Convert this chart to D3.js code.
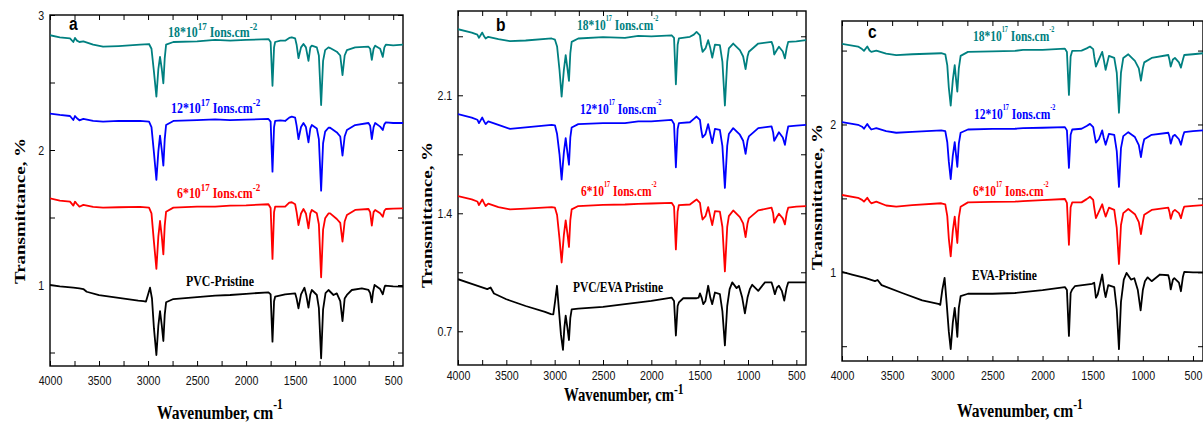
<!DOCTYPE html>
<html><head><meta charset="utf-8">
<script src="https://cdn.jsdelivr.net/npm/d3@7"></script>
<style>body{margin:0;background:#fff}svg{display:block}</style>
</head><body>
<svg id="chart" width="1203" height="425"></svg>
<script>
// ---------------- DATA (wavenumber cm-1, transmittance %) ----------------
// Panel a : PVC
const pvc18 = [[4000,2.85],[3900,2.835],[3796,2.827],[3762,2.80],[3745,2.83],[3725,2.81],[3700,2.80],[3660,2.805],[3560,2.78],[3459,2.765],[3300,2.77],[3082,2.78],[2990,2.785],[2965,2.75],[2940,2.58],[2915,2.395],[2895,2.60],[2878,2.69],[2860,2.60],[2844,2.494],[2830,2.68],[2816,2.78],[2742,2.80],[2500,2.805],[2316,2.815],[2163,2.81],[2000,2.815],[1772,2.822],[1750,2.80],[1731,2.476],[1715,2.76],[1704,2.80],[1650,2.81],[1602,2.81],[1560,2.83],[1534,2.835],[1500,2.827],[1485,2.78],[1466,2.68],[1440,2.76],[1415,2.785],[1390,2.76],[1364,2.66],[1345,2.76],[1330,2.773],[1279,2.76],[1258,2.70],[1235,2.333],[1215,2.66],[1194,2.74],[1160,2.76],[1143,2.755],[1075,2.728],[1040,2.70],[1017,2.555],[995,2.70],[972,2.74],[888,2.76],[752,2.765],[735,2.75],[718,2.667],[700,2.75],[684,2.773],[633,2.75],[606,2.69],[590,2.76],[575,2.78],[500,2.775],[400,2.78]];
const pvc12 = [[4000,2.27],[3900,2.26],[3796,2.252],[3762,2.222],[3745,2.252],[3725,2.235],[3700,2.22],[3660,2.23],[3560,2.215],[3459,2.21],[3300,2.215],[3082,2.215],[2990,2.21],[2965,2.17],[2940,1.98],[2915,1.778],[2895,1.99],[2878,2.106],[2860,2.0],[2844,1.884],[2830,2.08],[2816,2.185],[2742,2.215],[2500,2.222],[2316,2.227],[2163,2.222],[2000,2.225],[1772,2.23],[1750,2.21],[1731,1.84],[1715,2.17],[1704,2.215],[1650,2.22],[1602,2.215],[1560,2.24],[1534,2.247],[1500,2.24],[1485,2.18],[1466,2.08],[1440,2.17],[1415,2.20],[1390,2.17],[1364,2.057],[1345,2.16],[1330,2.185],[1279,2.16],[1258,2.08],[1235,1.699],[1215,2.05],[1194,2.136],[1160,2.165],[1143,2.165],[1075,2.13],[1040,2.10],[1017,1.958],[995,2.10],[972,2.148],[888,2.185],[752,2.20],[735,2.18],[718,2.08],[700,2.17],[684,2.20],[633,2.173],[606,2.148],[590,2.19],[575,2.205],[500,2.20],[400,2.20]];
const pvc6 = [[4000,1.642],[3900,1.625],[3796,1.617],[3762,1.588],[3745,1.617],[3725,1.60],[3700,1.58],[3660,1.593],[3560,1.578],[3459,1.573],[3300,1.576],[3082,1.578],[2990,1.573],[2965,1.53],[2940,1.32],[2915,1.119],[2895,1.36],[2878,1.474],[2860,1.36],[2844,1.227],[2830,1.44],[2816,1.543],[2742,1.573],[2500,1.58],[2316,1.58],[2163,1.588],[2000,1.59],[1772,1.598],[1750,1.57],[1731,1.193],[1715,1.54],[1704,1.58],[1650,1.58],[1602,1.58],[1560,1.61],[1534,1.613],[1500,1.598],[1485,1.54],[1466,1.444],[1440,1.53],[1415,1.563],[1390,1.53],[1364,1.42],[1345,1.53],[1330,1.556],[1279,1.531],[1258,1.45],[1235,1.057],[1215,1.41],[1194,1.494],[1160,1.53],[1143,1.531],[1075,1.489],[1040,1.46],[1017,1.321],[995,1.47],[972,1.519],[888,1.556],[752,1.563],[735,1.54],[718,1.44],[700,1.54],[684,1.556],[633,1.531],[606,1.506],[590,1.55],[575,1.563],[500,1.565],[400,1.568]];
const pvc0 = [[4000,1.0],[3900,0.99],[3762,0.98],[3700,0.975],[3660,0.97],[3626,0.95],[3500,0.925],[3300,0.905],[3100,0.885],[3048,0.881],[3021,0.877],[3000,0.93],[2980,0.98],[2960,0.90],[2940,0.68],[2915,0.481],[2895,0.70],[2878,0.807],[2860,0.70],[2844,0.585],[2830,0.78],[2816,0.872],[2742,0.896],[2500,0.91],[2316,0.921],[2163,0.926],[2000,0.935],[1772,0.946],[1750,0.93],[1731,0.58],[1715,0.88],[1704,0.913],[1602,0.931],[1500,0.938],[1485,0.90],[1466,0.827],[1440,0.93],[1405,0.98],[1385,0.92],[1364,0.832],[1345,0.93],[1330,0.963],[1279,0.926],[1258,0.83],[1235,0.457],[1215,0.82],[1190,0.94],[1160,0.963],[1109,0.926],[1075,0.938],[1040,0.88],[1017,0.733],[995,0.90],[972,0.926],[922,0.963],[820,0.975],[752,0.963],[735,0.94],[718,0.872],[705,0.95],[690,1.0],[633,0.97],[606,0.931],[590,0.98],[582,0.995],[500,0.99],[400,0.988]];

// Panel b : PVC/EVA
const blend18 = [[4000,2.492],[3858,2.472],[3800,2.46],[3783,2.441],[3749,2.472],[3730,2.45],[3714,2.437],[3687,2.447],[3582,2.433],[3462,2.421],[3300,2.425],[3031,2.437],[2997,2.43],[2975,2.39],[2950,2.25],[2928,2.092],[2905,2.25],[2886,2.338],[2868,2.26],[2852,2.185],[2838,2.35],[2824,2.417],[2756,2.437],[2500,2.445],[2273,2.441],[2135,2.453],[2000,2.45],[1790,2.456],[1765,2.44],[1746,2.165],[1728,2.40],[1715,2.437],[1601,2.447],[1560,2.46],[1532,2.476],[1497,2.456],[1485,2.40],[1470,2.358],[1440,2.378],[1412,2.427],[1390,2.38],[1370,2.323],[1342,2.40],[1291,2.397],[1265,2.30],[1239,2.039],[1215,2.30],[1198,2.378],[1153,2.407],[1084,2.368],[1050,2.33],[1025,2.255],[1005,2.33],[991,2.358],[894,2.407],[756,2.417],[740,2.39],[729,2.342],[700,2.37],[680,2.388],[640,2.36],[618,2.319],[600,2.38],[584,2.417],[500,2.42],[400,2.427]];
const blend12 = [[4000,1.988],[3858,1.968],[3800,1.955],[3783,1.935],[3749,1.968],[3730,1.945],[3714,1.929],[3687,1.945],[3582,1.925],[3462,1.901],[3300,1.91],[3031,1.925],[2997,1.922],[2975,1.87],[2950,1.75],[2928,1.60],[2905,1.76],[2886,1.846],[2868,1.76],[2852,1.688],[2838,1.85],[2824,1.909],[2756,1.929],[2500,1.935],[2273,1.935],[2135,1.945],[2000,1.945],[1790,1.954],[1765,1.93],[1746,1.673],[1728,1.90],[1715,1.935],[1601,1.94],[1560,1.96],[1532,1.974],[1497,1.954],[1485,1.90],[1470,1.85],[1440,1.87],[1412,1.929],[1390,1.87],[1370,1.816],[1342,1.901],[1291,1.895],[1265,1.80],[1239,1.551],[1215,1.80],[1198,1.87],[1153,1.905],[1084,1.866],[1050,1.83],[1025,1.752],[1005,1.83],[991,1.856],[894,1.905],[756,1.915],[740,1.88],[729,1.83],[700,1.86],[680,1.881],[640,1.85],[618,1.806],[600,1.87],[584,1.915],[500,1.92],[400,1.925]];
const blend6 = [[4000,1.502],[3858,1.482],[3800,1.47],[3783,1.449],[3749,1.482],[3730,1.46],[3714,1.443],[3687,1.457],[3582,1.437],[3462,1.423],[3300,1.428],[3031,1.437],[2997,1.433],[2975,1.39],[2950,1.25],[2928,1.108],[2905,1.27],[2886,1.358],[2868,1.28],[2852,1.20],[2838,1.36],[2824,1.423],[2756,1.443],[2500,1.45],[2273,1.452],[2135,1.456],[2000,1.458],[1790,1.462],[1765,1.44],[1746,1.186],[1728,1.41],[1715,1.449],[1601,1.452],[1560,1.47],[1532,1.482],[1497,1.462],[1485,1.41],[1470,1.363],[1440,1.383],[1412,1.437],[1390,1.38],[1370,1.33],[1342,1.413],[1291,1.41],[1265,1.32],[1239,1.055],[1215,1.32],[1198,1.383],[1153,1.417],[1084,1.377],[1050,1.34],[1025,1.259],[1005,1.34],[991,1.37],[894,1.417],[756,1.433],[740,1.40],[729,1.344],[700,1.38],[680,1.397],[640,1.37],[618,1.334],[600,1.40],[584,1.433],[500,1.44],[400,1.443]];
const blend0 = [[4000,1.009],[3850,0.98],[3697,0.95],[3663,0.96],[3628,0.924],[3500,0.89],[3300,0.85],[3100,0.815],[3038,0.802],[3014,0.80],[2995,0.88],[2976,0.97],[2955,0.82],[2935,0.68],[2914,0.59],[2900,0.72],[2886,0.793],[2868,0.72],[2852,0.648],[2838,0.78],[2824,0.83],[2756,0.835],[2500,0.845],[2273,0.861],[2000,0.88],[1790,0.90],[1765,0.88],[1746,0.675],[1728,0.85],[1715,0.871],[1670,0.896],[1532,0.896],[1510,0.90],[1497,0.925],[1480,0.90],[1463,0.861],[1440,0.88],[1412,0.97],[1390,0.90],[1370,0.861],[1342,0.93],[1291,0.92],[1265,0.82],[1239,0.616],[1215,0.85],[1190,0.95],[1163,0.99],[1118,0.956],[1094,0.97],[1060,0.90],[1032,0.806],[1005,0.90],[981,0.95],[956,0.976],[894,0.94],[825,0.99],[756,0.99],[740,0.96],[722,0.92],[700,0.96],[680,0.97],[650,0.94],[625,0.882],[600,0.96],[584,0.99],[500,0.99],[400,0.99]];

// Panel c : EVA
const eva18 = [[4000,2.545],[3840,2.527],[3800,2.51],[3781,2.498],[3748,2.527],[3725,2.50],[3708,2.491],[3658,2.50],[3560,2.48],[3459,2.469],[3300,2.475],[3010,2.482],[2970,2.475],[2950,2.40],[2935,2.25],[2916,2.128],[2895,2.30],[2876,2.401],[2862,2.30],[2850,2.222],[2835,2.38],[2817,2.464],[2744,2.491],[2500,2.495],[2275,2.498],[2195,2.504],[2000,2.505],[1777,2.513],[1757,2.49],[1737,2.20],[1720,2.46],[1704,2.498],[1611,2.50],[1560,2.515],[1527,2.527],[1495,2.51],[1485,2.46],[1468,2.392],[1438,2.44],[1405,2.491],[1390,2.44],[1371,2.37],[1338,2.464],[1285,2.45],[1260,2.35],[1238,2.079],[1218,2.35],[1195,2.45],[1145,2.475],[1079,2.43],[1040,2.38],[1019,2.296],[1000,2.38],[986,2.42],[912,2.45],[746,2.47],[735,2.44],[722,2.392],[700,2.44],[680,2.45],[640,2.42],[620,2.385],[600,2.44],[587,2.47],[500,2.475],[400,2.482]];
const eva12 = [[4000,2.016],[3840,1.998],[3800,1.985],[3781,1.971],[3748,2.004],[3725,1.98],[3708,1.966],[3658,1.975],[3560,1.955],[3459,1.944],[3300,1.95],[3010,1.96],[2970,1.955],[2950,1.88],[2935,1.75],[2916,1.63],[2895,1.79],[2876,1.881],[2862,1.79],[2850,1.713],[2835,1.87],[2817,1.944],[2744,1.966],[2500,1.97],[2275,1.971],[2195,1.975],[2000,1.978],[1777,1.982],[1757,1.96],[1737,1.706],[1720,1.93],[1704,1.966],[1611,1.971],[1560,1.99],[1527,2.004],[1495,1.982],[1485,1.94],[1468,1.877],[1438,1.90],[1405,1.96],[1390,1.91],[1371,1.863],[1338,1.937],[1285,1.93],[1260,1.82],[1238,1.578],[1218,1.84],[1195,1.921],[1145,1.948],[1079,1.915],[1040,1.86],[1019,1.78],[1000,1.86],[986,1.90],[912,1.93],[746,1.944],[735,1.92],[722,1.87],[700,1.92],[680,1.93],[640,1.90],[620,1.863],[600,1.92],[587,1.948],[500,1.955],[400,1.96]];
const eva6 = [[4000,1.523],[3840,1.504],[3800,1.49],[3781,1.478],[3748,1.504],[3725,1.48],[3708,1.467],[3658,1.478],[3560,1.452],[3459,1.444],[3300,1.455],[3010,1.467],[2970,1.46],[2950,1.38],[2935,1.23],[2916,1.108],[2895,1.28],[2876,1.377],[2862,1.28],[2850,1.198],[2835,1.37],[2817,1.444],[2744,1.473],[2500,1.476],[2275,1.478],[2195,1.482],[2000,1.488],[1777,1.496],[1757,1.47],[1737,1.186],[1720,1.44],[1704,1.473],[1611,1.473],[1560,1.495],[1527,1.511],[1495,1.49],[1485,1.44],[1468,1.366],[1438,1.41],[1405,1.46],[1390,1.42],[1371,1.377],[1338,1.437],[1285,1.422],[1260,1.30],[1238,1.056],[1218,1.32],[1195,1.40],[1145,1.428],[1079,1.393],[1040,1.34],[1019,1.258],[1000,1.34],[986,1.39],[912,1.422],[746,1.437],[735,1.41],[722,1.361],[700,1.41],[680,1.422],[640,1.40],[620,1.366],[600,1.42],[587,1.444],[500,1.45],[400,1.455]];
const eva0 = [[4000,1.003],[3900,0.985],[3771,0.962],[3671,0.94],[3645,0.948],[3605,0.913],[3400,0.86],[3200,0.81],[3040,0.787],[3020,0.78],[3000,0.88],[2977,0.962],[2955,0.78],[2935,0.60],[2916,0.48],[2895,0.66],[2876,0.76],[2862,0.66],[2850,0.563],[2835,0.76],[2817,0.839],[2744,0.855],[2500,0.855],[2275,0.86],[2000,0.88],[1777,0.90],[1757,0.88],[1737,0.57],[1720,0.86],[1704,0.884],[1678,0.906],[1505,0.922],[1485,0.93],[1468,0.828],[1450,0.85],[1405,0.985],[1385,0.88],[1371,0.832],[1345,0.913],[1285,0.90],[1260,0.75],[1238,0.48],[1218,0.80],[1190,0.95],[1162,0.996],[1118,0.951],[1085,0.96],[1050,0.88],[1022,0.742],[1000,0.88],[979,0.94],[952,0.966],[912,0.94],[829,0.985],[746,0.98],[735,0.95],[722,0.884],[700,0.95],[686,0.96],[640,0.93],[620,0.872],[600,0.97],[587,1.003],[500,1.0],[400,1.0]];

const xMinorTicks = d3.range(4000, 399, -250);
const xTickLabels = [4000, 3500, 3000, 2500, 2000, 1500, 1000, 500];
const yTicksA = [0.5, 1, 1.5, 2, 2.5, 3],  yLabelsA = [1, 2, 3];
const yTicksB = [0.7, 1.05, 1.4, 1.75, 2.1, 2.45], yLabelsB = [0.7, 1.4, 2.1];
const yTicksC = [0.5, 1, 1.5, 2, 2.5], yLabelsC = [1, 2];
const doses = ["18", "12", "6"];
const pristineNames = ["PVC-Pristine", "PVC/EVA Pristine", "EVA-Pristine"];
const colors = ["#008080", "#0000ff", "#ff0000", "#000000"];

// ---------------- LAYOUT ----------------
const SQ = 0.82; // horizontal squash of the original figure
const serif = "'Liberation Serif','Times New Roman',serif";
const sans = "'Liberation Sans',Arial,sans-serif";

const panels = [
  { letter: "a", L: 50, R: 403, T: 15, B: 366, yDomain: [0.4, 3], yTicks: yTicksA, yLabels: yLabelsA, yFmt: d3.format("d"),
    series: [pvc18, pvc12, pvc6, pvc0], name: pristineNames[0],
    labelPos: [[168, 37], [171, 113], [177, 198], [186, 286]], supSize: 11, supShift: -7, labelSize: 14.5,
    letterPos: [69, 30], xTitle: [157, 419, -10, 19], yTitle: [25, 211], xLabY: 19 },
  { letter: "b", L: 458, R: 806, T: 11, B: 365, yDomain: [0.5, 2.6], yTicks: yTicksB, yLabels: yLabelsB, yFmt: d3.format(".1f"),
    series: [blend18, blend12, blend6, blend0], name: pristineNames[1],
    labelPos: [[577, 30], [580, 114], [581, 196], [573, 292]], supSize: 7.5, supShift: -9, labelSize: 14,
    letterPos: [496, 31], xTitle: [564, 401, -7, 18], yTitle: [432, 215], xLabY: 15 },
  { letter: "c", L: 842, R: 1203, T: 21, B: 361, yDomain: [0.4, 2.7], yTicks: yTicksC, yLabels: yLabelsC, yFmt: d3.format("d"),
    series: [eva18, eva12, eva6, eva0], name: pristineNames[2],
    labelPos: [[973, 41], [974, 119], [973, 196], [972, 280]], supSize: 7.5, supShift: -9, labelSize: 14,
    letterPos: [868, 38], xTitle: [957, 417, -8, 19], yTitle: [822, 197], xLabY: 19 }
];

const svg = d3.select("#chart");

function richText(g, x, y, parts, size, family, weight, fill, extra) {
  const t = g.append("text")
    .attr("transform", `translate(${x},${y}) scale(${SQ},1)` + (extra || ""))
    .attr("font-family", family).attr("font-weight", weight)
    .attr("font-size", size).attr("fill", fill);
  let shift = 0;
  parts.forEach(p => {
    const target = p.sup ? p.shift : 0;
    const ts = t.append("tspan").text(p.t).attr("dy", target - shift);
    if (p.sup) ts.attr("font-size", p.size);
    shift = target;
  });
  return t;
}

panels.forEach(p => {
  const g = svg.append("g");
  const x = d3.scaleLinear().domain([4000, 400]).range([p.L, p.R]);
  const y = d3.scaleLinear().domain(p.yDomain).range([p.B, p.T]);
  const isLab = (arr, d) => arr.some(v => Math.abs(v - d) < 1e-6);

  // axes (inward ticks)
  const ax = [
    { a: d3.axisBottom(x).tickValues(xMinorTicks).tickFormat(d => isLab(xTickLabels, d) ? d : ""), tr: `translate(0,${p.B})`, kind: "b" },
    { a: d3.axisTop(x).tickValues(xMinorTicks).tickFormat(""), tr: `translate(0,${p.T})`, kind: "t" },
    { a: d3.axisLeft(y).tickValues(p.yTicks).tickFormat(d => isLab(p.yLabels, d) ? p.yFmt(d) : ""), tr: `translate(${p.L},0)`, kind: "l" },
    { a: d3.axisRight(y).tickValues(p.yTicks).tickFormat(""), tr: `translate(${p.R},0)`, kind: "r" }
  ];
  ax.forEach(o => {
    const ag = g.append("g").attr("transform", o.tr)
      .call(o.a.tickSize(-5).tickSizeOuter(0).tickPadding(6));
    ag.select(".domain").remove();
    ag.selectAll(".tick line").attr("stroke", "#000").attr("stroke-width", 1);
    ag.selectAll(".tick text").attr("font-family", sans).attr("font-size", 13).attr("fill", "#111");
    if (o.kind === "b") ag.selectAll(".tick text").attr("y", p.xLabY).attr("dy", null).attr("transform", `scale(${SQ},1)`);
    if (o.kind === "l") ag.selectAll(".tick text").attr("x", -7).attr("transform", `scale(${SQ},1)`);
  });

  // frame
  g.append("rect").attr("x", p.L).attr("y", p.T).attr("width", p.R - p.L).attr("height", p.B - p.T)
    .attr("fill", "none").attr("stroke", "#000").attr("stroke-width", 1.4);

  // clip
  const cid = "clip" + p.letter;
  svg.append("clipPath").attr("id", cid).append("rect")
    .attr("x", p.L).attr("y", p.T).attr("width", p.R - p.L).attr("height", p.B - p.T);

  const line = d3.line().x(d => x(d[0])).y(d => y(d[1]));
  p.series.forEach((s, i) => {
    g.append("path").datum(s).attr("d", line).attr("clip-path", `url(#${cid})`)
      .attr("fill", "none").attr("stroke", colors[i]).attr("stroke-width", 1.8)
      .attr("stroke-linejoin", "round");
  });

  // series labels
  doses.forEach((d, i) => {
    const [lx, ly] = p.labelPos[i];
    richText(g, lx, ly, [
      { t: d + "*10" }, { t: "17", sup: true, size: p.supSize, shift: p.supShift },
      { t: " Ions.cm" }, { t: "-2", sup: true, size: p.supSize, shift: p.supShift }
    ], p.labelSize, serif, "bold", colors[i]);
  });
  richText(g, p.labelPos[3][0], p.labelPos[3][1], [{ t: p.name }], p.labelSize, serif, "bold", colors[3]);

  // panel letter
  richText(g, p.letterPos[0], p.letterPos[1], [{ t: p.letter }], 19, sans, "bold", "#000");

  // axis titles
  richText(g, p.xTitle[0], p.xTitle[1], [{ t: "Wavenumber, cm" }, { t: "-1", sup: true, size: 14, shift: p.xTitle[2] }], p.xTitle[3], serif, "bold", "#000");
  richText(g, p.yTitle[0], p.yTitle[1], [{ t: "Transmittance, %" }], 19, serif, "bold", "#000", " rotate(-90)")
    .attr("text-anchor", "middle");
});
</script>
</body></html>
